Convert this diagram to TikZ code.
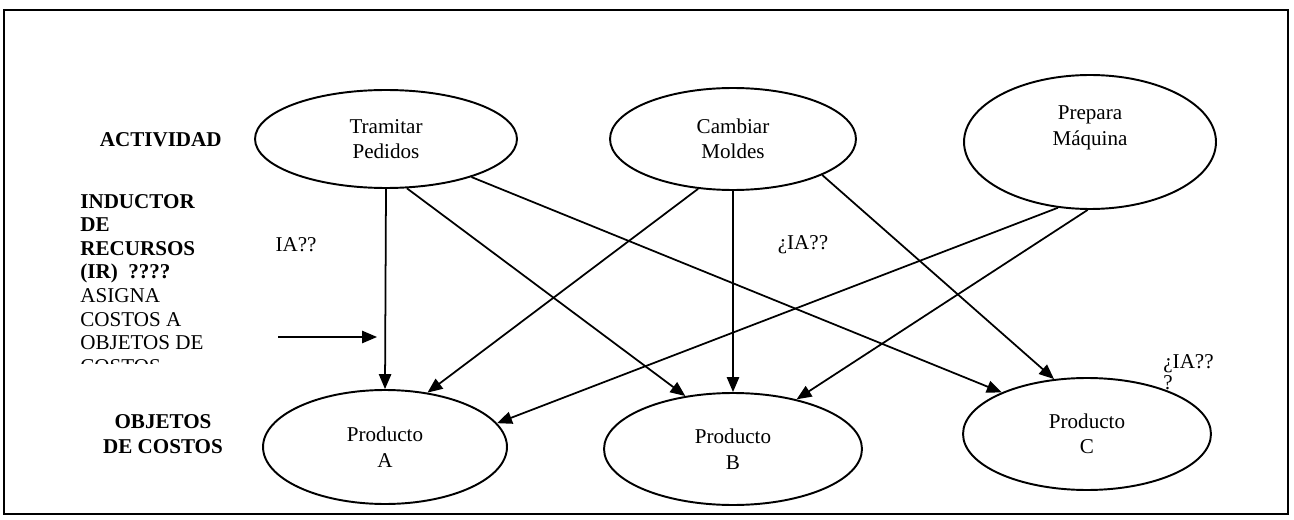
\documentclass[tikz,border=0pt]{standalone}
\usepackage{fontspec}
\setmainfont{Liberation Serif}
\usetikzlibrary{shapes.geometric,arrows.meta}

\begin{document}
\begin{tikzpicture}[
		x=0.02cm,y=-0.02cm,
		font=\fontsize{12}{14.5}\selectfont,
		oval/.style={ellipse,draw,line width=1.1pt,inner sep=0pt,align=center},
		rotulo/.style={font=\fontsize{12}{14}\selectfont\bfseries,inner sep=0pt},
		texto/.style={inner sep=0pt},
		flecha/.style={-{Triangle[length=8.5pt,width=7pt]},line width=1pt}
		]
		\useasboundingbox (0,0) rectangle (1294,520);
		\draw[line width=0.8pt] (4,10) rectangle (1288,514);
		\draw[line width=1.6pt] (4,10) -- (1288,10);
		
		% actividades
		\node[oval,minimum width=5.24cm,minimum height=1.96cm] (tramitar) at (386,139) {Tramitar\\Pedidos};
		\node[oval,minimum width=4.92cm,minimum height=2.04cm] (cambiar) at (733,139) {Cambiar\\Moldes};
		\node[oval,minimum width=5.04cm,minimum height=2.68cm] (prepara) at (1090,142) {};
		\node[texto,align=center] (preparatexto) at (1090,128) {Prepara\\Máquina};
		
		% objetos de costos
		\node[oval,minimum width=4.88cm,minimum height=2.28cm] (prodA) at (385,447) {Producto\\A};
		\node[oval,minimum width=5.16cm,minimum height=2.24cm] (prodB) at (733,449) {Producto\\B};
		\node[oval,minimum width=4.96cm,minimum height=2.24cm] (prodC) at (1087,434) {Producto\\C};
		
		\node[rotulo,anchor=east] (actividad) at (222,140) {ACTIVIDAD};
		\node[rotulo,align=center] (objetos) at (163,434) {OBJETOS\\DE COSTOS};
		\begin{scope}
			\clip (0,0) rectangle (260,363);
			\node[texto,align=left,anchor=north west,font=\fontsize{12}{13.4}\selectfont] (inductor) at (80,194)
			{\textbf{INDUCTOR}\\\textbf{DE}\\\textbf{RECURSOS}\\\textbf{(IR)\ \ ????}\\ASIGNA\\COSTOS A\\OBJETOS DE\\COSTOS};
		\end{scope}
		
		\node[texto] (ia1) at (296,245) {IA??};
		\node[texto] (ia2) at (803,245) {¿IA??};
		\node[texto,align=left,anchor=north west,font=\fontsize{12}{12}\selectfont] (ia3) at (1163,354) {¿IA??\\?};
		
		% inductores
		\draw[flecha] (tramitar.south) -- (prodA.north);
		\draw[flecha] (tramitar.293) -- (prodB.132);
		\draw[flecha] (tramitar.336) -- (prodC.154);
		\draw[flecha] (cambiar.235) -- (prodA.52);
		\draw[flecha] (cambiar.south) -- (prodB.north);
		\draw[flecha] (cambiar.338) -- (prodC.121);
		\draw[flecha] (prepara.244) -- (prodA.12);
		\draw[flecha] (prepara.268) -- (prodB.38);
		
		\coordinate (asigna) at (278,337);
		\coordinate (asignafin) at (377,337);
		\draw[flecha] (asigna) -- (asignafin);
	\end{tikzpicture}
\end{document}
